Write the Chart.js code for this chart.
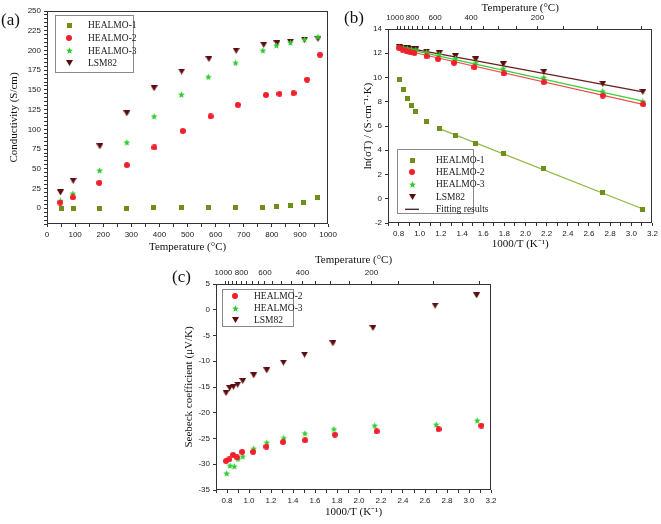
<!DOCTYPE html>
<html><head><meta charset="utf-8">
<script src="https://cdn.jsdelivr.net/npm/chart.js@4.4.1/dist/chart.umd.min.js"></script>
<style>
html,body{margin:0;padding:0;background:#fff;width:661px;height:524px;overflow:hidden;position:relative;}
canvas{position:absolute;}
.lbl{position:absolute;font-family:"Liberation Serif","Times New Roman",serif;font-size:17px;color:#111;line-height:17px;}
</style></head><body>
<canvas id="ca" width="340" height="258" style="left:0;top:0"></canvas>
<canvas id="cb" width="331" height="258" style="left:330px;top:0"></canvas>
<canvas id="cc" width="340" height="279" style="left:160px;top:245px"></canvas>
<div class="lbl" style="left:1px;top:11px">(a)</div>
<div class="lbl" style="left:344px;top:9px">(b)</div>
<div class="lbl" style="left:172px;top:268px">(c)</div>
<script>
// ---------- Series names ----------
const names = ['HEALMO-1', 'HEALMO-2', 'HEALMO-3', 'LSM82'];

// ---------- Panel (a): conductivity (S/cm) vs temperature (°C) ----------
const tempA_H1 = [50, 93, 188, 283, 380, 477, 574, 671, 768, 815, 865, 914, 964];
const condA_H1 = [0, 0, 0, 0, 0.3, 0.3, 0.4, 0.6, 1.2, 2.1, 3.8, 6.8, 14];
const tempA_H2 = [47, 92, 186, 284, 382, 483, 582, 679, 779, 827, 877, 925, 971];
const condA_H2 = [7.2, 13.6, 32.2, 54.7, 77, 97.9, 116.5, 131, 143.6, 145, 145.8, 163, 194.5];
const tempA_H3 = [48, 92, 187, 284, 381, 478, 574, 671, 768, 816, 866, 916, 964];
const condA_H3 = [9.3, 18.6, 47.9, 83.5, 116.5, 144, 166.5, 184.3, 200, 206.4, 210, 214, 217.4];
const tempA_L = [48, 93, 188, 284, 381, 479, 576, 673, 771, 818, 866, 916, 964];
const condA_L = [20, 34.7, 78.4, 120.3, 152, 173.3, 189, 199.6, 207.2, 209, 211, 213.6, 214.8];
const xTicksA = [0,50,100,150,200,250,300,350,400,450,500,550,600,650,700,750,800,850,900,950,1000];
const xLabelsA = [0,100,200,300,400,500,600,700,800,900,1000];
const yTicksA = [-20,-15,-10,-5,0,5,10,15,20,25,30,35,40,45,50,55,60,65,70,75,80,85,90,95,100,105,110,115,120,125,130,135,140,145,150,155,160,165,170,175,180,185,190,195,200,205,210,215,220,225,230,235,240,245,250];
const yLabelsA = [0,25,50,75,100,125,150,175,200,225,250];

// ---------- Panel (b): ln(sigma T) vs 1000/T ----------
const invTB = [0.806, 0.845, 0.883, 0.921, 0.962, 1.064, 1.185, 1.338, 1.529, 1.790, 2.173, 2.730, 3.109];
const invTB_H2 = [0.806, 0.838, 0.876, 0.911, 0.950, 1.064, 1.173, 1.325, 1.517, 1.794, 2.173, 2.730, 3.112];
const lnB_H1 = [9.81, 8.98, 8.29, 7.68, 7.16, 6.33, 5.78, 5.23, 4.57, 3.74, 2.47, 0.49, -0.87];
const lnB_H2 = [12.43, 12.29, 12.15, 12.07, 12.01, 11.74, 11.52, 11.21, 10.83, 10.33, 9.61, 8.51, 7.79];
const lnB_H3 = [12.50, 12.45, 12.40, 12.34, 12.29, 12.10, 11.90, 11.57, 11.21, 10.74, 10.00, 8.87, 8.04];
const lnB_L  = [12.53, 12.47, 12.42, 12.36, 12.31, 12.14, 12.00, 11.77, 11.49, 11.10, 10.47, 9.48, 8.81];
// fitted straight lines: [start, end]
const fitX_H1 = [1.18, 3.11], fitY_H1 = [5.80, -0.85];
const fitX_H2 = [0.80, 3.11], fitY_H2 = [12.35, 7.78];
const fitX_H3 = [0.80, 3.11], fitY_H3 = [12.50, 8.05];
const fitX_L  = [0.80, 3.11], fitY_L  = [12.56, 8.82];
const yTicksB = [-2,0,2,4,6,8,10,12,14];

// ---------- Panel (c): Seebeck coefficient vs 1000/T ----------
const invTC_H2 = [0.791, 0.821, 0.855, 0.891, 0.937, 1.037, 1.158, 1.310, 1.510, 1.781, 2.160, 2.723, 3.112];
const seeC_H2  = [-29.37, -29.05, -28.2, -28.66, -27.6, -27.6, -26.6, -25.7, -25.35, -24.25, -23.6, -23.2, -22.5];
const invTC_H3 = [0.797, 0.827, 0.867, 0.900, 0.943, 1.043, 1.161, 1.316, 1.508, 1.772, 2.143, 2.702, 3.075];
const seeC_H3  = [-31.76, -30.27, -30.4, -28.98, -28.46, -26.97, -25.8, -24.9, -24.0, -23.16, -22.5, -22.3, -21.5];
const invTC_L  = [0.791, 0.824, 0.858, 0.897, 0.943, 1.043, 1.161, 1.313, 1.505, 1.763, 2.127, 2.692, 3.069];
const seeC_L   = [-16.17, -15.19, -14.94, -14.55, -13.83, -12.73, -11.76, -10.27, -8.72, -6.52, -3.54, 0.79, 2.8];
const yTicksC = [-35,-30,-25,-20,-15,-10,-5,0,5];

// ---------- shared 1000/T axis ticks ----------
const invTTicks = [0.7,0.8,0.9,1.0,1.1,1.2,1.3,1.4,1.5,1.6,1.7,1.8,1.9,2.0,2.1,2.2,2.3,2.4,2.5,2.6,2.7,2.8,2.9,3.0,3.1,3.2];
const invTLabels = ['0.8','1.0','1.2','1.4','1.6','1.8','2.0','2.2','2.4','2.6','2.8','3.0','3.2'];
const topTemps = [1000,950,900,850,800,750,700,650,600,550,500,450,400,350,300,250,200,150,100,50];
const topTempLabels = [1000,800,600,400,200];

// ---------- styling ----------
const colors = {H1:'#6f8e1c', H2:'#f01f2b', H3:'#2fcc2f', L:'#5c0b10'};
const fitColors = {H1:'#8cba3e', H2:'#f04a50', H3:'#36d236', L:'#6b1c1c'};
const tickFont = {family:'"Liberation Sans Narrow","Liberation Sans",Arial,sans-serif', size:8};
const titleFont = {family:'"Liberation Serif","Times New Roman",serif', size:11};
const legendFont = '9.5px "Liberation Serif","Times New Roman",serif';
const inkColor = '#222';

function marker(shape, color){
  const w = shape==='tri'?7:(shape==='star'?7:(shape==='circle'?6:5));
  const h = shape==='tri'?6:w;
  const c = document.createElement('canvas'); c.width = w; c.height = h;
  const g = c.getContext('2d'); g.fillStyle = color;
  const m = w/2;
  g.beginPath();
  if (shape==='rect'){ g.rect(0,0,w,h); }
  else if (shape==='circle'){ g.arc(m,m,m,0,Math.PI*2); }
  else if (shape==='tri'){ g.moveTo(0,0); g.lineTo(w,0); g.lineTo(m,h); g.closePath(); }
  else if (shape==='star'){
    for (let i=0;i<10;i++){ const r = i%2===0? m : m*0.45; const a = -Math.PI/2 + i*Math.PI/5;
      const px = m + r*Math.cos(a), py = m + 0.3 + r*Math.sin(a); if(i===0) g.moveTo(px,py); else g.lineTo(px,py);} g.closePath();
  }
  g.fill();
  return c;
}
const mk = {H1:marker('rect',colors.H1), H2:marker('circle',colors.H2), H3:marker('star',colors.H3), L:marker('tri',colors.L)};

const pts = (xs, ys) => xs.map((x,i)=>({x:x, y:ys[i]}));

const framePlugin = {id:'frame', afterDatasetsDraw(chart){
  const {ctx, chartArea:a} = chart; ctx.save(); ctx.strokeStyle='#333'; ctx.lineWidth=1;
  ctx.strokeRect(Math.round(a.left)+0.5, Math.round(a.top)+0.5, Math.round(a.right-a.left)-1, Math.round(a.bottom-a.top)-1);
  ctx.restore();
}};
function legendPlugin(cfg){
  return {id:'boxLegend', afterDraw(chart){
    const ctx = chart.ctx, a = chart.chartArea;
    const x = Math.round(a.left + cfg.dx), y = Math.round(a.top + cfg.dy);
    ctx.save();
    ctx.fillStyle='#fff'; ctx.fillRect(x,y,cfg.w,cfg.h);
    ctx.strokeStyle='#8a8a8a'; ctx.lineWidth=1; ctx.strokeRect(x+0.5,y+0.5,cfg.w,cfg.h);
    ctx.font = legendFont; ctx.textBaseline='middle'; ctx.textAlign='left';
    cfg.items.forEach((it,i)=>{
      const yy = y + cfg.first + i*cfg.step;
      if (it.img){ ctx.drawImage(it.img, Math.round(x+cfg.mx-it.img.width/2), Math.round(yy-it.img.height/2)); }
      else { ctx.strokeStyle=it.line; ctx.lineWidth=1.3; ctx.beginPath(); ctx.moveTo(x+cfg.mx-7,yy+0.5); ctx.lineTo(x+cfg.mx+7,yy+0.5); ctx.stroke(); }
      ctx.fillStyle='#1a1a1a'; ctx.fillText(it.text, x+cfg.tx, yy+0.5);
    });
    ctx.restore();
  }};
}
function scatterDS(label, data, img){
  return {type:'scatter', label, data, pointStyle:img, pointRadius:4, pointHoverRadius:4, showLine:false, order:1};
}
function fitDS(xs, ys, color){
  return {type:'line', label:'fit', data:pts(xs,ys), showLine:true, pointRadius:0, borderColor:color, borderWidth:1.2, fill:false, order:5};
}
function fixedTicks(values){ return (s)=>{ s.ticks = values.map(v=>({value:v})); }; }
function invTAxis(pos, height, title, pad, tickPad){
  return {type:'linear', position:pos, min:0.7, max:3.2,
    afterBuildTicks: fixedTicks(invTTicks),
    afterFit: s=>{ s.height = height; },
    ticks:{autoSkip:false, maxRotation:0, font:tickFont, color:inkColor, padding:tickPad,
      callback:(v)=>{ const t = v.toFixed(1); return invTLabels.includes(t)? t : ''; }},
    grid:{drawOnChartArea:false, tickLength:3, color:'#333'}, border:{display:false},
    title:{display:true, text:title, font:titleFont, color:'#111', padding:pad}};
}
function topTempAxis(height, pad){
  return {type:'linear', position:'top', min:0.7, max:3.2,
    afterBuildTicks: s=>{ s.ticks = topTemps.map(t=>({value:1000/(t+273.15), temp:t})); },
    afterFit: s=>{ s.height = height; },
    ticks:{autoSkip:false, maxRotation:0, font:tickFont, color:inkColor, padding:3,
      callback:function(v, i, ticks){ const t = ticks[i].temp; if (!topTempLabels.includes(t)) return '';
        return t === 1000 ? '1000\u2002' : String(t); }},
    grid:{drawOnChartArea:false, tickLength:3, color:'#333'}, border:{display:false},
    title:{display:true, text:'Temperature (°C)', font:titleFont, color:'#111', padding:pad}};
}
function yAxis(min, max, ticks, labels, width, title){
  return {type:'linear', position:'left', min, max,
    afterBuildTicks: fixedTicks(ticks),
    afterFit: s=>{ s.width = width; },
    ticks:{autoSkip:false, font:tickFont, color:inkColor, padding:3,
      callback:(v)=> labels.includes(v)? String(v) : ''},
    grid:{drawOnChartArea:false, tickLength:3, color:'#333'}, border:{display:false},
    title:{display:true, text:title, font:titleFont, color:'#111', padding:{top:0,bottom:0}}};
}
const baseOpts = {responsive:false, animation:false, events:[],
  plugins:{legend:{display:false}, tooltip:{enabled:false}}};

// ---------- Chart (a) ----------
new Chart(document.getElementById('ca'), {
  type:'scatter',
  data:{datasets:[
    scatterDS(names[0], pts(tempA_H1, condA_H1), mk.H1),
    scatterDS(names[1], pts(tempA_H2, condA_H2), mk.H2),
    scatterDS(names[2], pts(tempA_H3, condA_H3), mk.H3),
    scatterDS(names[3], pts(tempA_L, condA_L), mk.L)]},
  options:Object.assign({}, baseOpts, {
    layout:{padding:{left:8, top:11, right:7, bottom:0}},
    scales:{
      x:{type:'linear', position:'bottom', min:0, max:1000,
        afterBuildTicks: fixedTicks(xTicksA), afterFit: s=>{ s.height = 34; },
        ticks:{autoSkip:false, maxRotation:0, font:tickFont, color:inkColor, padding:3,
          callback:(v)=> xLabelsA.includes(v)? String(v) : ''},
        grid:{drawOnChartArea:false, tickLength:3, color:'#333'}, border:{display:false},
        title:{display:true, text:'Temperature (°C)', font:titleFont, color:'#111', padding:{top:0,bottom:4}}},
      y: yAxis(-20, 250, yTicksA, yLabelsA, 39, 'Conductivity (S/cm)')
    }}),
  plugins:[framePlugin, legendPlugin({dx:8, dy:4, w:78, h:57, first:10, step:12.8, mx:14, tx:33,
    items:[{img:mk.H1,text:names[0]},{img:mk.H2,text:names[1]},{img:mk.H3,text:names[2]},{img:mk.L,text:names[3]}]})]
});

// ---------- Chart (b) ----------
new Chart(document.getElementById('cb'), {
  type:'scatter',
  data:{datasets:[
    scatterDS(names[0], pts(invTB, lnB_H1), mk.H1),
    scatterDS(names[1], pts(invTB_H2, lnB_H2), mk.H2),
    scatterDS(names[2], pts(invTB, lnB_H3), mk.H3),
    scatterDS(names[3], pts(invTB, lnB_L), mk.L),
    fitDS(fitX_H1, fitY_H1, fitColors.H1),
    fitDS(fitX_H2, fitY_H2, fitColors.H2),
    fitDS(fitX_H3, fitY_H3, fitColors.H3),
    fitDS(fitX_L, fitY_L, fitColors.L)]},
  options:Object.assign({}, baseOpts, {
    layout:{padding:{left:32, top:0, right:8, bottom:0}},
    scales:{
      x: invTAxis('bottom', 35, '1000/T (K⁻¹)', {top:0,bottom:7}, 3),
      x2: topTempAxis(29, {top:2,bottom:0}),
      y: yAxis(-2, 14, yTicksB, yTicksB, 26, 'ln(σT) / (S·cm⁻¹·K)')
    }}),
  plugins:[framePlugin, legendPlugin({dx:9, dy:120, w:76, h:64, first:11, step:12.2, mx:15, tx:39,
    items:[{img:mk.H1,text:names[0]},{img:mk.H2,text:names[1]},{img:mk.H3,text:names[2]},{img:mk.L,text:names[3]},{line:'#3a1e1e',text:'Fitting results'}]})]
});

// ---------- Chart (c) ----------
new Chart(document.getElementById('cc'), {
  type:'scatter',
  data:{datasets:[
    scatterDS(names[1], pts(invTC_H2, seeC_H2), mk.H2),
    scatterDS(names[2], pts(invTC_H3, seeC_H3), mk.H3),
    scatterDS(names[3], pts(invTC_L, seeC_L), mk.L)]},
  options:Object.assign({}, baseOpts, {
    layout:{padding:{left:23, top:0, right:9, bottom:0}},
    scales:{
      x: invTAxis('bottom', 34, '1000/T (K⁻¹)', {top:0,bottom:5}, 3),
      x2: topTempAxis(39, {top:9,bottom:0}),
      y: yAxis(-35, 5, yTicksC, yTicksC, 33, 'Seebeck coefficient (μV/K)')
    }}),
  plugins:[framePlugin, legendPlugin({dx:6, dy:5, w:71, h:37, first:7, step:12, mx:13, tx:32,
    items:[{img:mk.H2,text:names[1]},{img:mk.H3,text:names[2]},{img:mk.L,text:names[3]}]})]
});
</script>
</body></html>
